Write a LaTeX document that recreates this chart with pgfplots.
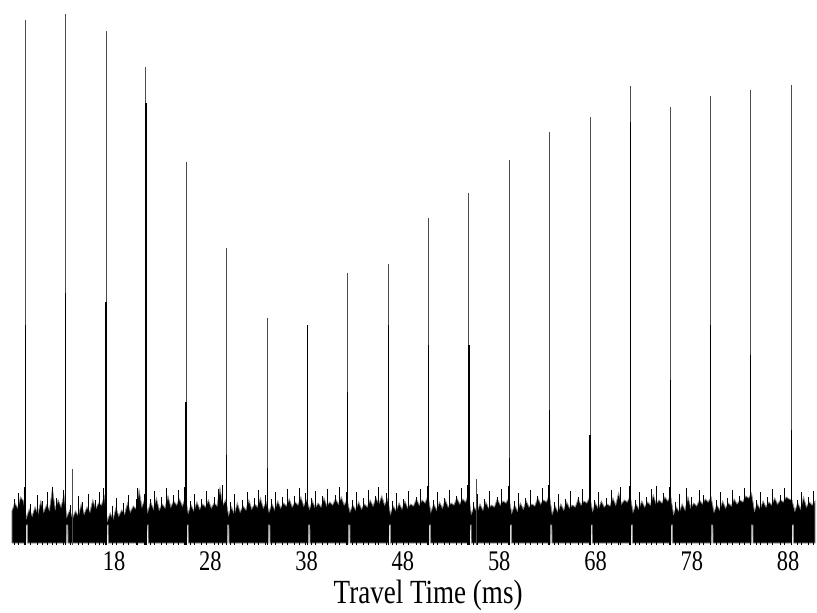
\documentclass[border=0pt]{standalone}
\usepackage{fontspec}
\setmainfont{Liberation Serif}
\usepackage{pgfplots}
\pgfplotsset{compat=1.18}

\begin{document}
\begin{tikzpicture}
\begin{axis}[scale only axis, width=408.5pt, height=272.5pt,
  xmin=6.16, xmax=91.0, ymin=0, ymax=545,
  axis line style={draw=none}, tick style={draw=none},
  ytick=\empty, xtick={18,28,...,88},
  /pgf/number format/assume math mode=true,
  x tick label style={font=\fontsize{14.2}{16}\selectfont, xscale=0.79},
  xlabel={Travel Time (ms)},
  xlabel style={font=\fontsize{16.9}{20}\selectfont, xscale=0.8, at={(ticklabel cs:0.524)}, anchor=north, inner sep=1pt}]

% noise band: upper edge left to right, then lower edge back (with the dip after each pulse)
\addplot[fill=black, draw=black!45, line width=0.4pt] coordinates {
(7.4,34) (7.7,42) (8.0,37) (8.3,48) (8.6,44)
(8.9,27) (9.2,36) (9.5,29) (9.8,38) (10.1,31) (10.4,44) (10.7,33) (11.0,40) (11.3,35) (11.6,56) (11.9,36) (12.2,45) (12.5,38) (12.8,50)
(13.1,28) (13.4,35) (13.7,27) (14.0,34) (14.3,29) (14.6,41) (14.9,31) (15.2,38) (15.5,33) (15.8,45) (16.1,36) (16.4,42) (16.7,40) (17.0,49)
(17.3,24) (17.6,32) (17.9,26) (18.2,37) (18.5,29) (18.8,35) (19.1,31) (19.4,42) (19.7,33) (20.0,39) (20.3,36) (20.6,55) (20.9,38) (21.2,46)
(21.5,33) (21.8,43) (22.1,36) (22.4,47) (22.7,35) (23.0,41) (23.3,37) (23.6,49) (23.9,38) (24.2,44) (24.5,40) (24.8,46) (25.1,39) (25.4,47)
(25.7,32) (26.0,40) (26.3,34) (26.6,43) (26.9,36) (27.2,41) (27.5,38) (27.8,45) (28.1,37) (28.4,42) (28.7,39) (29.0,57) (29.3,40) (29.6,45)
(29.9,30) (30.2,38) (30.5,31) (30.8,42) (31.1,33) (31.4,39) (31.7,35) (32.0,45) (32.3,36) (32.6,41) (32.9,38) (33.2,47) (33.5,37) (33.8,43)
(34.1,33) (34.4,41) (34.7,35) (35.0,44) (35.3,37) (35.6,42) (35.9,39) (36.2,46) (36.5,38) (36.8,43) (37.1,40) (37.4,48) (37.7,39) (38.0,45)
(38.3,36) (38.6,44) (38.9,37) (39.2,42) (39.5,38) (39.8,47) (40.1,39) (40.4,43) (40.7,40) (41.0,46) (41.3,41) (41.6,48) (41.9,40) (42.2,45)
(42.5,33) (42.8,40) (43.1,35) (43.4,43) (43.7,36) (44.0,41) (44.3,38) (44.6,45) (44.9,39) (45.2,47) (45.5,41) (45.8,49) (46.1,40) (46.4,46)
(46.7,31) (47.0,39) (47.3,34) (47.6,42) (47.9,36) (48.2,44) (48.5,37) (48.8,41) (49.1,39) (49.4,46) (49.7,40) (50.0,45) (50.3,42) (50.6,49)
(50.9,33) (51.2,41) (51.5,35) (51.8,43) (52.1,37) (52.4,45) (52.7,38) (53.0,42) (53.3,40) (53.6,47) (53.9,41) (54.2,46) (54.5,43) (54.8,50)
(55.1,31) (55.4,38) (55.7,33) (56.0,41) (56.3,35) (56.6,43) (56.9,37) (57.2,40) (57.5,38) (57.8,46) (58.1,40) (58.4,44) (58.7,42) (59.0,47)
(59.3,32) (59.6,40) (59.9,34) (60.2,42) (60.5,36) (60.8,44) (61.1,38) (61.4,41) (61.7,39) (62.0,47) (62.3,41) (62.6,45) (62.9,43) (63.2,50)
(63.5,31) (63.8,39) (64.1,33) (64.4,41) (64.7,35) (65.0,43) (65.3,37) (65.6,40) (65.9,38) (66.2,46) (66.5,40) (66.8,44) (67.1,42) (67.4,48)
(67.7,34) (68.0,42) (68.3,36) (68.6,44) (68.9,38) (69.2,41) (69.5,39) (69.8,47) (70.1,40) (70.4,52) (70.7,41) (71.0,45) (71.3,43) (71.6,49)
(71.9,33) (72.2,41) (72.5,36) (72.8,44) (73.1,38) (73.4,43) (73.7,40) (74.0,50) (74.3,41) (74.6,45) (74.9,42) (75.2,48) (75.5,44) (75.8,49)
(76.1,31) (76.4,38) (76.7,33) (77.0,41) (77.3,35) (77.6,48) (77.9,37) (78.2,42) (78.5,39) (78.8,45) (79.1,41) (79.4,46) (79.7,43) (80.0,48)
(80.3,33) (80.6,40) (80.9,35) (81.2,44) (81.5,37) (81.8,42) (82.1,39) (82.4,46) (82.7,41) (83.0,45) (83.3,43) (83.6,49) (83.9,47) (84.2,52)
(84.5,34) (84.8,41) (85.1,36) (85.4,44) (85.7,38) (86.0,43) (86.3,40) (86.6,47) (86.9,41) (87.2,45) (87.5,43) (87.8,48) (88.1,46) (88.4,45)
(88.7,34) (89.0,42) (89.3,36) (89.6,48) (89.9,38) (90.2,43) (90.5,40) (90.8,44)
(90.8,2)
(88.57,2) (88.55,20) (88.40,20) (88.38,2)
(84.36,2) (84.34,20) (84.19,20) (84.17,2)
(80.20,2) (80.18,20) (80.03,20) (80.01,2)
(76.01,2) (75.99,20) (75.84,20) (75.82,2)
(71.85,2) (71.83,20) (71.68,20) (71.66,2)
(67.67,2) (67.65,20) (67.50,20) (67.48,2)
(63.48,2) (63.46,20) (63.31,20) (63.29,2)
(59.29,2) (59.27,20) (59.12,20) (59.10,2)
(55.10,2) (55.08,20) (54.93,20) (54.91,2)
(50.88,2) (50.86,20) (50.71,20) (50.69,2)
(46.72,2) (46.70,20) (46.55,20) (46.53,2)
(42.51,2) (42.49,20) (42.34,20) (42.32,2)
(38.35,2) (38.33,20) (38.18,20) (38.16,2)
(34.20,2) (34.18,20) (34.03,20) (34.01,2)
(29.94,2) (29.92,20) (29.77,20) (29.75,2)
(25.72,2) (25.70,20) (25.55,20) (25.53,2)
(21.56,2) (21.54,20) (21.39,20) (21.37,2)
(17.41,2) (17.39,20) (17.24,20) (17.22,2)
(13.22,2) (13.20,20) (13.05,20) (13.03,2)
(9.03,2) (9.01,20) (8.86,20) (8.84,2)
(7.4,2) (7.4,34)
};

% thin needles sticking out of the noise
\addplot[ycomb, black, line width=0.35pt] coordinates {
(7.63,46) (8.04,52) (8.68,58)
(9.30,41) (10.07,50) (10.53,44) (11.09,53) (11.57,58) (11.98,47) (12.71,55)
(13.49,40) (14.27,49) (14.72,43) (15.30,51) (16.01,45) (16.47,53) (16.91,57)
(17.83,39) (18.24,47) (18.98,42) (19.50,50) (20.27,46) (20.43,57) (21.11,51)
(21.73,46) (22.14,54) (22.88,48) (23.40,57) (24.17,50) (24.63,55) (25.31,58)
(25.93,44) (26.34,51) (27.08,46) (27.60,54) (28.37,48) (28.83,56) (29.21,60)
(30.13,43) (30.54,51) (31.28,45) (31.80,53) (32.57,47) (33.03,55) (33.71,50)
(34.33,46) (34.74,53) (35.48,48) (36.00,56) (36.77,49) (37.23,57) (37.91,52)
(38.53,47) (38.94,54) (39.68,49) (40.20,56) (40.97,50) (41.43,58) (42.11,53)
(42.73,45) (43.14,53) (43.88,47) (44.40,55) (45.17,49) (45.43,58) (46.31,52)
(46.93,44) (47.34,52) (48.08,46) (48.60,54) (49.37,48) (49.83,56) (50.51,59)
(51.13,45) (51.54,53) (52.28,47) (52.80,55) (53.57,49) (54.03,57) (54.71,60)
(55.33,43) (55.74,51) (56.48,46) (57.00,54) (57.77,48) (58.23,56) (58.91,59)
(59.53,44) (59.94,52) (60.68,47) (61.20,55) (61.97,49) (62.43,57) (63.11,60)
(63.73,43) (64.14,51) (64.88,46) (65.40,54) (66.17,48) (66.63,56) (67.31,59)
(67.93,45) (68.34,53) (69.08,47) (69.60,55) (70.37,49) (70.53,58) (71.51,59)
(72.13,45) (72.54,53) (73.28,48) (73.80,56) (74.27,59) (75.03,52) (75.71,58)
(76.33,43) (76.74,51) (77.48,57) (78.00,48) (78.77,55) (79.23,50) (79.91,58)
(80.53,45) (80.94,53) (81.68,47) (82.20,55) (82.97,49) (83.43,57) (84.07,61)
(84.73,45) (85.14,53) (85.88,48) (86.40,56) (87.17,50) (87.63,57) (88.29,60)
(88.93,45) (89.34,53) (90.08,48) (90.60,54)
};

% pulses, full height
\addplot[ycomb, black!70, line width=0.5pt] coordinates {
(8.79,525) (12.98,531) (17.17,514) (21.32,478) (25.48,383) (29.70,297) (33.96,227)
(38.11,220) (42.27,272) (46.48,281) (50.64,327) (54.86,352) (59.05,385) (63.24,413)
(67.43,428) (71.61,459) (75.77,438) (79.96,449) (84.12,455) (88.33,460)
(13.74,76) (55.59,66)
};

% darker lower part of the pulses
\addplot[ycomb, black, line width=0.6pt] coordinates {
(8.79,220) (12.98,252) (17.17,243) (21.32,442) (25.48,143) (29.70,90) (33.96,77)
(38.11,220) (42.27,153) (46.48,220) (50.64,200) (54.86,200) (59.05,87) (63.24,135)
(67.43,110) (71.61,423) (75.77,165) (79.96,220) (84.12,190) (88.33,115)
};
\end{axis}
\end{tikzpicture}
\end{document}
